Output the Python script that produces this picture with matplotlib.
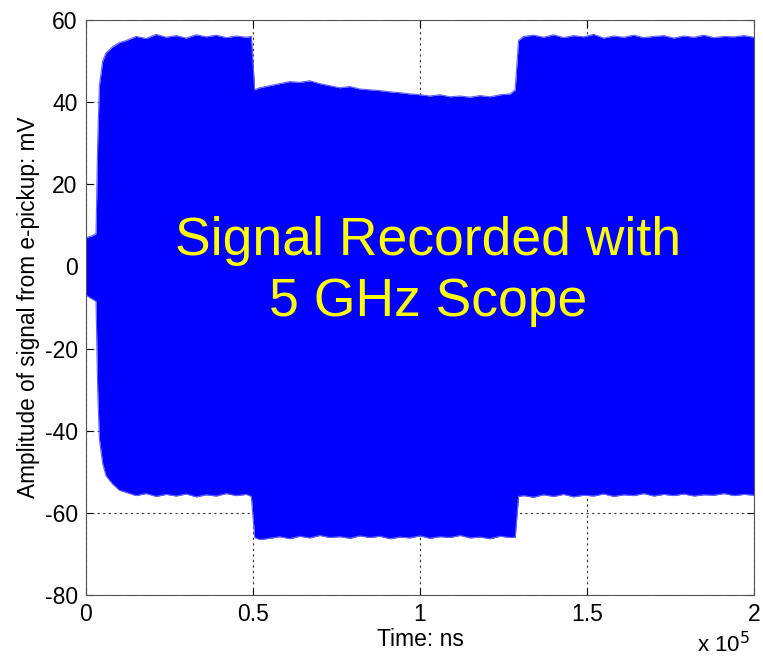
import matplotlib
matplotlib.use("Agg")
import matplotlib.pyplot as plt
import numpy as np

plt.rcParams['font.family'] = ['Liberation Sans', 'DejaVu Sans']
plt.rcParams['axes.unicode_minus'] = False

# time axis (units of 1e5 ns) and envelope of the recorded signal (mV)
t_e5 = [0, 0.02, 0.03, 0.035, 0.04, 0.05, 0.06, 0.08, 0.10, 0.12, 0.15, 0.18,
        0.21, 0.24, 0.27, 0.30, 0.33, 0.36, 0.39, 0.42, 0.45, 0.48, 0.495,
        0.505, 0.52, 0.55, 0.58, 0.61, 0.64, 0.67, 0.70, 0.73, 0.76, 0.79,
        0.82, 0.85, 0.88, 0.91, 0.94, 0.97, 1.00, 1.03, 1.06, 1.09, 1.12,
        1.15, 1.18, 1.21, 1.24, 1.27, 1.285, 1.295, 1.31, 1.34, 1.37, 1.40,
        1.43, 1.46, 1.49, 1.52, 1.55, 1.58, 1.61, 1.64, 1.67, 1.70, 1.73,
        1.76, 1.79, 1.82, 1.85, 1.88, 1.91, 1.94, 1.97, 2.00]
upper = [7, 7.5, 8, 30, 44, 50, 52, 53.5, 54.5, 55, 56, 55.5,
         56.5, 55.8, 56.2, 55.6, 56.4, 55.9, 56.3, 55.7, 56.1, 55.8, 56,
         43, 43.5, 44, 44.5, 45, 44.8, 45.2, 44.5, 44, 43.5, 43.8,
         43.2, 43, 42.8, 42.5, 42.3, 42, 41.8, 41.5, 41.8, 41.3, 41.5,
         41.2, 41.6, 41.3, 41.8, 42, 43, 55, 56, 56.3, 55.8, 56.4,
         55.7, 56.2, 55.9, 56.5, 55.6, 56.1, 55.8, 56.3, 55.7, 56, 56.2,
         55.6, 56.1, 55.8, 56.3, 55.7, 56, 55.9, 56.2, 55.8]
lower = [-7, -8, -8.5, -30, -42, -48, -51, -53, -54.5, -55, -55.8, -55.3,
         -56, -55.5, -55.9, -55.4, -56.1, -55.6, -55.9, -55.3, -55.8, -55.5, -56,
         -66, -66.5, -66.2, -65.8, -66.3, -65.7, -66.1, -65.5, -66, -65.8, -66.2,
         -65.6, -66, -65.7, -66.3, -65.9, -66.1, -65.6, -66.2, -65.8, -66, -65.5,
         -66.1, -65.9, -66.3, -65.7, -66, -66, -56, -55.8, -56.2, -55.6, -56,
         -55.5, -56.1, -55.7, -55.9, -55.4, -56, -55.6, -55.8, -55.3, -55.9, -55.5,
         -55.8, -55.4, -55.9, -55.6, -55.7, -55.3, -55.8, -55.5, -55.7]

x_ticks = [0, 0.5, 1, 1.5, 2]
y_ticks = [-80, -60, -40, -20, 0, 20, 40, 60]

t = np.array(t_e5) * 1e5

fig = plt.figure(figsize=(7.63, 6.6), dpi=100)
ax = fig.add_axes([86/763, 1 - 595/660, (754-86)/763, (595-20)/660])

ax.fill_between(t, lower, upper, color='#0000ff', linewidth=0, zorder=2)
ax.plot(t, upper, color='#6060ff', lw=0.8, zorder=2)
ax.plot(t, lower, color='#6060ff', lw=0.8, zorder=2)

ax.set_xlim(0, 2e5)
ax.set_ylim(-80, 60)
ax.set_xticks([v * 1e5 for v in x_ticks])
ax.set_xticklabels([f"{v:g}" for v in x_ticks])
ax.set_yticks(y_ticks)
ax.tick_params(direction='in', length=5, labelsize=16.5, width=0.8,
               top=True, right=True, pad=6)
ax.grid(True, linestyle=(0, (2, 3)), color='#333333', linewidth=0.8, zorder=1)
ax.set_axisbelow(True)
for s in ax.spines.values():
    s.set_color('#555555')
    s.set_linewidth(0.8)

ax.set_xlabel("Time: ns", fontsize=16.5, labelpad=1)
ax.set_ylabel("Amplitude of signal from e-pickup: mV", fontsize=16.3, labelpad=3)
fig.text(697/763, 1 - 652/660, "x 10$^5$", fontsize=16, ha='left', va='baseline')

ax.text(1.024e5, -1.2, "Signal Recorded with\n5 GHz Scope", color='yellow',
        fontsize=38.5, ha='center', va='center', linespacing=1.27, zorder=5)

fig.savefig("out.png", dpi=100)
